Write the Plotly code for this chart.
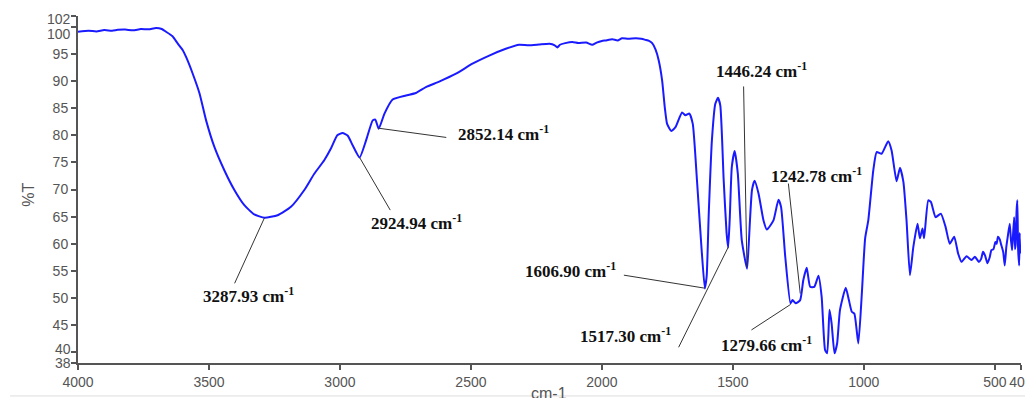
import plotly.graph_objects as go

# Spectrum (wavenumber cm-1, %T)
wavenumber = [4000, 3960, 3930, 3900, 3870, 3848, 3820, 3790, 3760, 3730, 3702, 3680, 3664, 3640,
              3619, 3600, 3587, 3562, 3536, 3511, 3479, 3441, 3403, 3365, 3327, 3288, 3238, 3187,
              3136, 3098, 3060, 3035, 3010, 2990, 2970, 2951, 2925, 2900, 2875, 2865, 2852, 2830,
              2799, 2748, 2710, 2672, 2621, 2557, 2494, 2430, 2367, 2316, 2280, 2240, 2200, 2180,
              2170, 2160, 2140, 2113, 2090, 2060, 2037, 2020, 2000, 1986, 1960, 1940, 1923, 1900,
              1870, 1850, 1834, 1820, 1808, 1795, 1783, 1770, 1760, 1751, 1735, 1719, 1694, 1681,
              1666, 1653, 1637, 1620, 1607, 1600, 1592, 1580, 1567, 1557, 1548, 1535, 1524, 1518,
              1512, 1504, 1493, 1481, 1466, 1446, 1440, 1427, 1417, 1402, 1383, 1370, 1345, 1326,
              1316, 1300, 1280, 1272, 1260, 1243, 1231, 1218, 1205, 1189, 1173, 1161, 1148, 1140,
              1131, 1123, 1112, 1102, 1091, 1069, 1057, 1046, 1036, 1021, 1008, 995, 983, 964,
              951, 932, 907, 894, 875, 862, 849, 837, 824, 811, 795, 786, 776, 770, 754, 744,
              726, 706, 688, 672, 655, 640, 627, 608, 589, 576, 561, 552, 545, 537, 528, 520,
              513, 505, 498, 493, 488, 481, 475, 468, 462, 456, 450, 443, 438, 434, 430, 426,
              423, 420, 417, 414, 411, 407, 405, 403]
transmittance = [99.1, 99.3, 99.15, 99.4, 99.3, 99.45, 99.5, 99.35, 99.6, 99.55, 99.8, 99.6, 99.1, 98.3,
                 96.9, 95.7, 94.4, 91.35, 87.7, 82.75, 77.8, 73.5, 69.9, 67.1, 65.4, 64.8, 65.25, 66.8,
                 69.9, 72.9, 75.4, 77.5, 80.0, 80.4, 79.9, 78.1, 75.9, 79.1, 82.75, 82.9, 81.2, 84.0,
                 86.6, 87.35, 87.8, 88.9, 89.9, 91.35, 93.2, 94.7, 95.95, 96.7, 96.6, 96.75, 96.9, 96.6,
                 96.2, 96.7, 97.0, 97.2, 97.0, 97.1, 96.7, 97.1, 97.4, 97.5, 97.7, 97.5, 97.9, 97.8,
                 97.9, 97.8, 97.6, 97.4, 97.0, 95.8, 93.8, 90.1, 85.2, 82.1, 80.8, 81.5, 84.2, 83.7,
                 84.0, 82.1, 71.7, 59.4, 51.75, 54.0, 65.6, 79.1, 85.8, 86.9, 85.5, 71.7, 62.0, 59.3,
                 64.5, 74.15, 77.1, 72.9, 60.65, 55.4, 59.4, 69.9, 71.6, 69.25, 64.3, 62.6, 64.3, 68.1,
                 66.8, 57.6, 49.0, 49.6, 49.0, 49.6, 53.3, 55.55, 52.05, 52.05, 54.1, 50.2, 40.4, 39.8,
                 47.8, 45.3, 39.8, 41.6, 47.8, 51.9, 49.6, 47.45, 47.1, 41.6, 50.5, 61.0, 64.3, 73.5,
                 76.9, 76.6, 78.9, 77.2, 71.5, 74.0, 71.4, 64.3, 54.2, 59.4, 63.7, 61.0, 62.8, 61.0, 68.0, 67.7,
                 64.9, 65.55, 63.1, 60.0, 61.3, 58.2, 56.65, 57.7, 57.0, 57.6, 56.65, 57.2, 58.5, 57.8, 56.4, 57.4,
                 58.8, 59.0, 60.3, 60.0, 61.3, 60.8, 59.7, 58.5, 56.0, 59.4, 61.5, 63.7, 60.5, 58.8, 62.0, 64.9,
                 59.0, 60.0, 66.0, 68.0, 59.0, 56.0, 62.0, 58.2]

# Peak labels: peak position, label centre and line end (data units)
peak_labels = ["3287.93", "2924.94", "2852.14", "1606.90", "1517.30", "1446.24", "1279.66", "1242.78"]
peak_wn = [3287.93, 2924.94, 2852.14, 1606.90, 1517.30, 1446.24, 1279.66, 1242.78]
peak_t = [64.8, 75.9, 81.3, 51.8, 59.4, 55.6, 48.8, 50.8]
label_wn = [3349, 2709, 2377, 2118, 1909, 1390, 1371, 1181]
label_t = [50.5, 64.0, 80.4, 55.1, 43.2, 92.0, 41.5, 72.6]
tail_wn = [3402, 2808, 2594, 1916, 1707, 1459, 1429, 1288]
tail_t = [52.7, 66.2, 79.6, 54.2, 40.9, 89.0, 44.1, 71.1]

x_ticks = [4000, 3500, 3000, 2500, 2000, 1500, 1000, 500, 400]
y_ticks = [38, 40, 45, 50, 55, 60, 65, 70, 75, 80, 85, 90, 95, 100, 102]
# crowded end labels are nudged off their ticks (as in the picture)
y_label_nudge = {102: -3, 100: -7, 40: 3, 38: 0}

tick_font = dict(family="Liberation Sans, Arial", size=14, color="#555555")

fig = go.Figure()
fig.add_trace(go.Scatter(x=wavenumber, y=transmittance, mode="lines",
                         line=dict(color="#1a1aff", width=2, shape="spline", smoothing=0.5),
                         showlegend=False))

shapes = []
annotations = []
for i, lab in enumerate(peak_labels):
    shapes.append(dict(type="line", xref="x", yref="y", x0=peak_wn[i], y0=peak_t[i],
                       x1=tail_wn[i], y1=tail_t[i], line=dict(color="#333333", width=1)))
    annotations.append(dict(x=label_wn[i], y=label_t[i], xref="x", yref="y", showarrow=False,
                            text=f"<b>{lab} cm<sup>-1</sup></b>",
                            font=dict(family="Liberation Serif, Times New Roman, serif", size=17, color="#111111")))

for v, dy in y_label_nudge.items():
    annotations.append(dict(x=0, y=v, xref="paper", yref="y", showarrow=False, text=str(v),
                            xanchor="right", xshift=-6, yshift=dy, borderpad=0, font=tick_font))

annotations.append(dict(x=-0.0635, y=0.4835, xref="paper", yref="paper", showarrow=False, text="%T",
                        textangle=-90, font=dict(family="Liberation Sans, Arial", size=16, color="#555555")))
annotations.append(dict(x=0.4995, y=-0.058, xref="paper", yref="paper", showarrow=False, text="cm-1",
                        yanchor="top", font=dict(family="Liberation Sans, Arial", size=16, color="#555555")))
shapes.append(dict(type="line", xref="paper", yref="paper", x0=-0.072, x1=1.013, y0=-0.095, y1=-0.095,
                   line=dict(color="#dddddd", width=1)))

axis_common = dict(showgrid=False, zeroline=False, showline=True, linecolor="#555555", linewidth=2,
                   ticks="outside", ticklen=5, tickwidth=1.5, tickcolor="#555555", tickfont=tick_font,
                   automargin=False)

# the page body keeps its default 8px margin, so the figure is offset by 8px
fig.update_layout(
    width=1025, height=390, autosize=False,
    margin=dict(l=70, r=12, t=8, b=35),
    plot_bgcolor="white", paper_bgcolor="white",
    xaxis=dict(range=[4000, 400], tickvals=x_ticks, ticktext=[str(v) for v in x_ticks],
               ticklabeloverflow="allow", **axis_common),
    yaxis=dict(range=[38, 102], tickvals=y_ticks,
               ticktext=["" if v in y_label_nudge else str(v) for v in y_ticks], **axis_common),
    shapes=shapes, annotations=annotations,
)

fig.write_html("out.html", config={"responsive": False, "displayModeBar": False})
